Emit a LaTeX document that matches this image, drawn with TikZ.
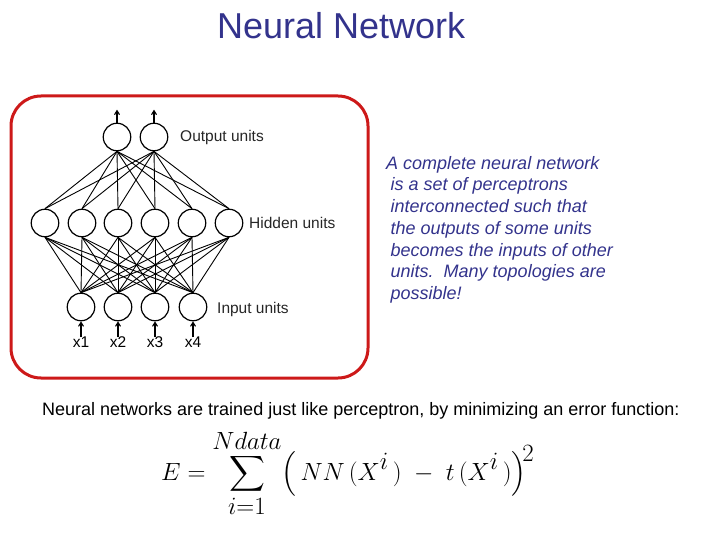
\documentclass[tikz,border=0pt]{standalone}
\usepackage{exscale}
\usepackage{fontspec}
\setmainfont{Liberation Sans}
\usetikzlibrary{arrows.meta}
\definecolor{navy}{RGB}{51,51,140}
\definecolor{boxred}{RGB}{205,25,25}
\begin{document}
\begin{tikzpicture}[x=1pt,y=-1pt,
  unit/.style={circle,draw=black,line width=1.2pt,minimum size=27.5pt,inner sep=0pt},
  link/.style={line width=0.9pt},
  sig/.style={line width=1.1pt,-{Straight Barb[length=4pt,width=5pt]}},
  lab/.style={font=\fontsize{15.5}{18}\selectfont,anchor=west,inner sep=0pt,text=black!85},
  para/.style={font=\fontsize{18}{21}\selectfont\itshape,anchor=base west,inner sep=0pt,text=navy}]
\useasboundingbox (0,0) rectangle (720,540);
% title
\node[anchor=base west,inner sep=0pt,text=navy,font=\fontsize{36}{40}\selectfont] (title) at (217,38.5) {Neural Network};
% red box
\draw[boxred,line width=3pt,rounded corners=30pt] (11,96) rectangle (368,378);
% units
\foreach \i/\x in {1/117,2/154} \node[unit] (o\i) at (\x,137) {};
\foreach \i/\x in {1/45,2/82,3/118,4/155,5/192,6/229} \node[unit] (h\i) at (\x,223) {};
\foreach \i/\x in {1/81,2/118,3/155,4/193} \node[unit] (in\i) at (\x,307) {};
% links
\foreach \a in {1,2} \foreach \b in {1,...,6} \draw[link] (o\a.south) -- (h\b.north);
\foreach \a in {1,...,6} \foreach \b in {1,...,4} \draw[link] (h\a.south) -- (in\b.north);
% output arrows
\foreach \i in {1,2} {\coordinate (ot\i) at ([yshift=13pt]o\i.north); \draw[sig] (o\i.north) -- (ot\i);}
% input arrows and labels
\foreach \i in {1,...,4} {
  \node[inner sep=0pt,anchor=base,font=\fontsize{15.5}{18}\selectfont] (xl\i) at ([yshift=-40pt]in\i.center) {x\i};
  \coordinate (ib\i) at ([yshift=-16pt]in\i.south);
  \draw[sig] (ib\i) -- (in\i.south);}
\node[lab] (lo) at (180,137) {Output units};
\node[lab] (lh) at (249,223) {Hidden units};
\node[lab] (li) at (217,309) {Input units};
% paragraph
\node[para] (p1) at (386,169.5) {A complete neural network};
\node[para] (p2) at (390.5,191) {is a set of perceptrons};
\node[para] (p3) at (390.5,213) {interconnected such that};
\node[para] (p4) at (390.5,234.5) {the outputs of some units};
\node[para] (p5) at (390.5,256) {becomes the inputs of other};
\node[para] (p6) at (390.5,277.5) {units.\ \ Many topologies are};
\node[para] (p7) at (390.5,299.5) {possible!};
% bottom line
\node[anchor=base west,inner sep=0pt,font=\fontsize{18}{21}\selectfont] (bl) at (42,415.7) {Neural networks are trained just like perceptron, by minimizing an error function:};
% equation
\node[anchor=west,inner sep=0pt,font=\fontsize{33.5}{40}\selectfont] (eq) at (161,473) {$\displaystyle E=\sum_{i=1}^{Ndata}\Bigl(\,NN\,(X^i\,)\;-\;t\,(X^i\,)\Bigr)^{\!2}$};
\end{tikzpicture}
\end{document}
